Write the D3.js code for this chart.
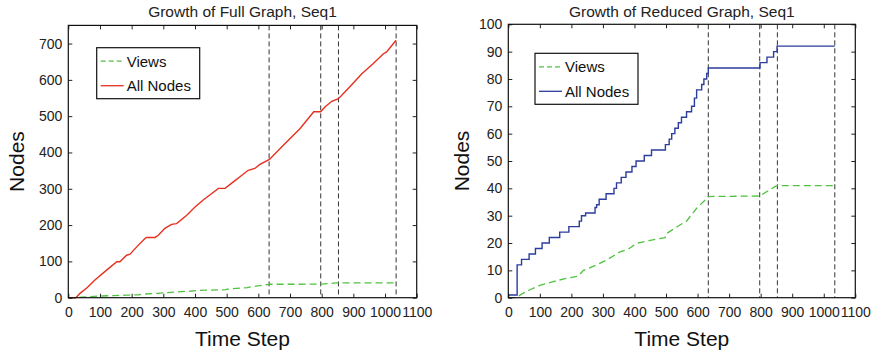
<!DOCTYPE html>
<html>
<head>
<meta charset="utf-8">
<script src="https://cdn.jsdelivr.net/npm/d3@7"></script>
<style>
    body { margin: 0; background: #fff; }
    svg { display: block; font-family: "Liberation Sans", Arial, sans-serif; }
    .axis path { display: none; }
    .axis line { stroke: #222; }
    .axis text { fill: #222; font-size: 14px; font-family: "Liberation Sans", Arial, sans-serif; }
</style>
</head>
<body>
<div id="chart"></div>
<script>
// time step of each vertical marker line
const markerSteps = [634, 797, 853, 1035];

// views (same in both graphs)
const viewsSteps = [0, 25, 42, 70, 100, 143, 180, 222, 238, 280, 312, 354, 380, 407, 450, 497, 502, 544, 565, 597, 629, 634, 797, 845, 853, 1035];
const viewsValues = [0, 0, 1.3, 3, 4.5, 5.9, 7, 7.9, 10, 12, 13.8, 16.8, 17.7, 19.9, 21, 22, 23.5, 26.6, 28, 32.7, 36.3, 37, 37.2, 40.6, 41, 41];

// all nodes, full graph
const fullSteps = [0, 24, 37, 60, 84, 121, 153, 163, 184, 195, 216, 242, 247, 274, 284, 305, 326, 342, 374, 400, 426, 453, 474, 495, 521, 542, 568, 589, 605, 635, 679, 732, 775, 797, 811, 832, 853, 889, 926, 963, 995, 1005, 1035];
const fullValues = [0, 0, 12, 28, 49, 76, 99, 99, 117, 120, 140, 163, 166, 166, 172, 191, 202, 204, 227, 250, 269, 287, 301, 301, 319, 333, 351, 356, 367, 381, 420, 466, 512, 512, 526, 541, 548, 581, 616, 645, 672, 677, 709];

// all nodes, reduced graph (step function, value holds until next step)
const reducedSteps = [0, 28, 42, 66, 86, 107, 130, 163, 192, 225, 232, 245, 275, 280, 288, 310, 335, 343, 358, 373, 392, 405, 431, 454, 498, 510, 518, 528, 539, 549, 565, 581, 590, 597, 613, 620, 629, 634, 798, 820, 841, 852, 1035];
const reducedValues = [1, 12, 14, 16, 18, 20, 22, 24, 26, 28, 30, 31, 33, 34, 36, 38, 40, 42, 44, 46, 48, 50, 52, 54, 56, 58, 60, 62, 64, 66, 68, 70, 73, 76, 78, 80, 82, 84, 86, 88, 90, 92, 92];

const xTicks = d3.range(0, 1101, 100);

const svg = d3.select("#chart").append("svg")
    .attr("width", 878)
    .attr("height", 354);

function drawPanel({title, left, right, top, bottom, yMax, yStep, nodeSteps, nodeValues, nodeColor, nodeCurve, legendX, legendY, labelX}) {
    const x = d3.scaleLinear().domain([0, 1100]).range([left, right]);
    const y = d3.scaleLinear().domain([0, yMax]).range([bottom, top]);
    const yTicks = d3.range(0, yMax + 0.001, yStep);

    const g = svg.append("g");

    // markers
    g.selectAll(".marker")
        .data(markerSteps)
        .join("line")
        .attr("x1", d => x(d)).attr("x2", d => x(d))
        .attr("y1", top).attr("y2", bottom)
        .attr("stroke", "#333")
        .attr("stroke-width", 1)
        .attr("stroke-dasharray", "5,3");

    const views = viewsSteps.map((s, i) => [s, viewsValues[i]]);
    const nodes = nodeSteps.map((s, i) => [s, nodeValues[i]]);

    g.append("path")
        .datum(views)
        .attr("fill", "none")
        .attr("stroke", "#4fc23f")
        .attr("stroke-width", 1.3)
        .attr("stroke-dasharray", "7,4")
        .attr("d", d3.line().x(d => x(d[0])).y(d => y(d[1])));

    g.append("path")
        .datum(nodes)
        .attr("fill", "none")
        .attr("stroke", nodeColor)
        .attr("stroke-width", 1.4)
        .attr("d", d3.line().curve(nodeCurve).x(d => x(d[0])).y(d => y(d[1])));

    // axes, ticks inward on all four sides
    g.append("g").attr("class", "axis")
        .attr("transform", `translate(0,${bottom})`)
        .call(d3.axisBottom(x).tickValues(xTicks).tickSize(-4).tickPadding(9).tickFormat(d3.format("d")));
    g.append("g").attr("class", "axis")
        .attr("transform", `translate(0,${top})`)
        .call(d3.axisTop(x).tickValues(xTicks).tickSize(-4).tickFormat(""));
    g.append("g").attr("class", "axis")
        .attr("transform", `translate(${left},0)`)
        .call(d3.axisLeft(y).tickValues(yTicks).tickSize(-4).tickPadding(6).tickFormat(d3.format("d")));
    g.append("g").attr("class", "axis")
        .attr("transform", `translate(${right},0)`)
        .call(d3.axisRight(y).tickValues(yTicks).tickSize(-4).tickFormat(""));

    g.append("rect")
        .attr("x", left).attr("y", top)
        .attr("width", right - left).attr("height", bottom - top)
        .attr("fill", "none")
        .attr("stroke", "#111")
        .attr("stroke-width", 1.2);

    // legend
    const legend = g.append("g").attr("transform", `translate(${legendX},${legendY})`);
    legend.append("rect")
        .attr("width", 103).attr("height", 51)
        .attr("fill", "#fff")
        .attr("stroke", "#111")
        .attr("stroke-width", 1.2);
    const items = [
        {label: "Views", color: "#4fc23f", dash: "5,3"},
        {label: "All Nodes", color: nodeColor, dash: null}
    ];
    items.forEach((it, i) => {
        const ly = 13.5 + i * 24.5;
        legend.append("line")
            .attr("x1", 4).attr("x2", 27)
            .attr("y1", ly).attr("y2", ly)
            .attr("stroke", it.color)
            .attr("stroke-width", 1.3)
            .attr("stroke-dasharray", it.dash);
        legend.append("text")
            .attr("x", 30).attr("y", ly + 5.5)
            .attr("font-size", 15)
            .attr("fill", "#111")
            .text(it.label);
    });

    svg.append("text")
        .attr("x", (left + right) / 2).attr("y", 17)
        .attr("text-anchor", "middle")
        .attr("font-size", 15.5)
        .attr("fill", "#222")
        .text(title);

    svg.append("text")
        .attr("x", (left + right) / 2).attr("y", 346)
        .attr("text-anchor", "middle")
        .attr("font-size", 21)
        .attr("fill", "#111")
        .text("Time Step");

    svg.append("text")
        .attr("transform", `translate(${labelX},${(top + bottom) / 2}) rotate(-90)`)
        .attr("text-anchor", "middle")
        .attr("font-size", 21)
        .attr("fill", "#111")
        .text("Nodes");
}

drawPanel({
    title: "Growth of Full Graph, Seq1",
    left: 68.3, right: 416.7, top: 25.4, bottom: 297.7,
    yMax: 750, yStep: 100,
    nodeSteps: fullSteps, nodeValues: fullValues,
    nodeColor: "#e5301f", nodeCurve: d3.curveLinear,
    legendX: 96.7, legendY: 47.7, labelX: 23.5
});

drawPanel({
    title: "Growth of Reduced Graph, Seq1",
    left: 508.3, right: 855.3, top: 24.3, bottom: 297.7,
    yMax: 100, yStep: 10,
    nodeSteps: reducedSteps, nodeValues: reducedValues,
    nodeColor: "#2b3d9d", nodeCurve: d3.curveStepAfter,
    legendX: 535, legendY: 53.3, labelX: 469
});
</script>
</body>
</html>
